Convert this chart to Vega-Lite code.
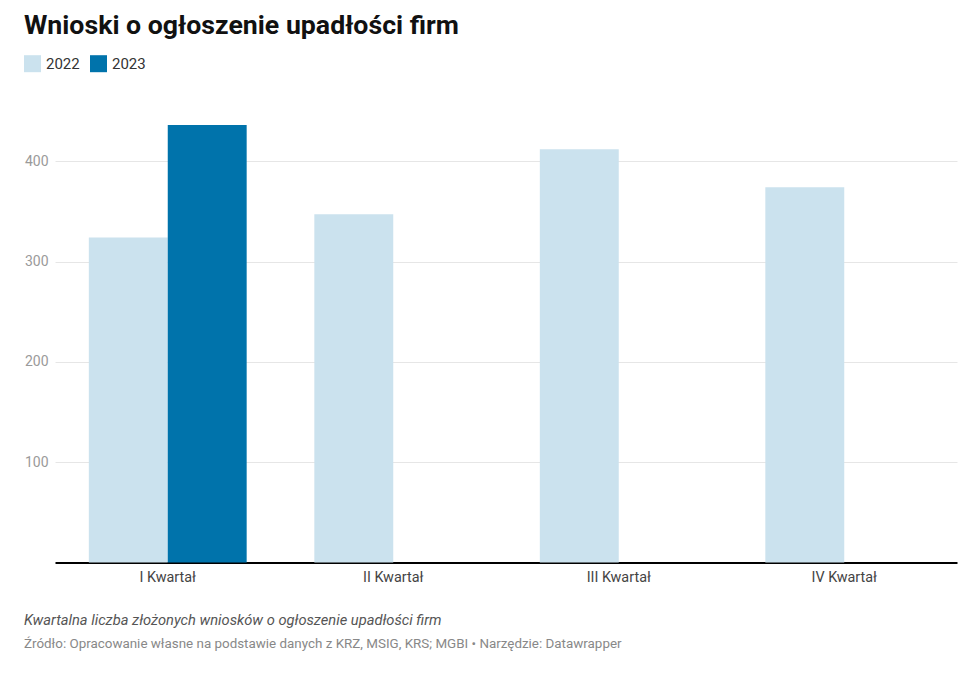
{
  "$schema": "https://vega.github.io/schema/vega-lite/v6.json",
  "width": 902,
  "height": 451.5,
  "autosize": {"type": "none"},
  "padding": {"left": 55, "top": 111, "right": 23, "bottom": 113.5},
  "background": "#ffffff",
  "title": {
    "text": "Kwartalna liczba złożonych wniosków o ogłoszenie upadłości firm",
    "subtitle": "Źródło: Opracowanie własne na podstawie danych z KRZ, MSIG, KRS; MGBI • Narzędzie: Datawrapper",
    "orient": "bottom",
    "anchor": "start",
    "frame": "bounds",
    "offset": 29,
    "font": "Roboto",
    "fontSize": 14.7,
    "fontStyle": "italic",
    "fontWeight": "normal",
    "color": "#555555",
    "subtitleFont": "Roboto",
    "subtitleFontSize": 13.4,
    "subtitleColor": "#888888",
    "subtitlePadding": 9
  },
  "data": {
    "values": [
      {"kwartal": "I Kwartał", "rok": "2022", "wnioski": 324},
      {"kwartal": "I Kwartał", "rok": "2023", "wnioski": 436},
      {"kwartal": "II Kwartał", "rok": "2022", "wnioski": 347},
      {"kwartal": "III Kwartał", "rok": "2022", "wnioski": 412},
      {"kwartal": "IV Kwartał", "rok": "2022", "wnioski": 374}
    ]
  },
  "mark": {"type": "bar"},
  "encoding": {
    "x": {
      "field": "kwartal",
      "type": "nominal",
      "sort": ["I Kwartał", "II Kwartał", "III Kwartał", "IV Kwartał"],
      "scale": {"paddingInner": 0.3, "paddingOuter": 0.15},
      "axis": {
        "title": null,
        "labelAngle": 0,
        "labelFont": "Roboto",
        "labelFontSize": 14.4,
        "labelColor": "#444444",
        "labelPadding": 8,
        "ticks": false,
        "domainColor": "#000000",
        "domainWidth": 2,
        "grid": false
      }
    },
    "xOffset": {
      "field": "rok",
      "type": "nominal",
      "scale": {"domain": ["2022", "2023"], "paddingInner": 0, "paddingOuter": 0}
    },
    "y": {
      "field": "wnioski",
      "type": "quantitative",
      "scale": {"domain": [0, 450], "nice": false},
      "axis": {
        "title": null,
        "values": [100, 200, 300, 400],
        "domain": false,
        "ticks": false,
        "labelFont": "Roboto",
        "labelFontSize": 14,
        "labelColor": "#9a9a9a",
        "labelPadding": 7,
        "gridColor": "#e6e6e6",
        "gridWidth": 1
      }
    },
    "color": {
      "field": "rok",
      "type": "nominal",
      "scale": {"domain": ["2022", "2023"], "range": ["#cbe2ee", "#0073ab"]},
      "legend": {
        "title": "Wnioski o ogłoszenie upadłości firm",
        "orient": "none",
        "legendX": -31,
        "legendY": -98,
        "direction": "horizontal",
        "titleFont": "Roboto",
        "titleFontSize": 26.7,
        "titleFontWeight": "bold",
        "titleColor": "#111111",
        "titleLimit": 800,
        "titlePadding": 15.5,
        "titleAnchor": "start",
        "symbolType": "square",
        "symbolSize": 289,
        "symbolStrokeWidth": 0,
        "symbolOpacity": 1,
        "labelFont": "Roboto",
        "labelFontSize": 15,
        "labelColor": "#333333",
        "labelOffset": 5,
        "columnPadding": 10
      }
    }
  },
  "config": {
    "view": {"stroke": null},
    "font": "Roboto"
  }
}
